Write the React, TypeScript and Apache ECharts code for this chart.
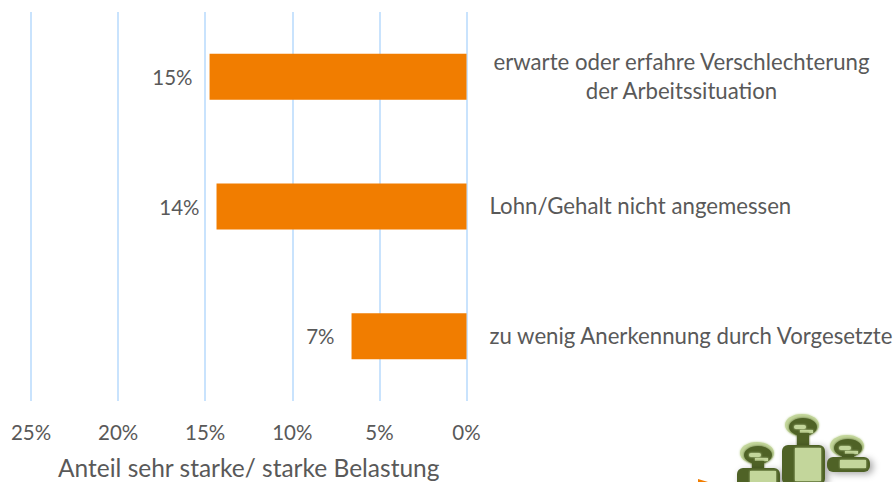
import React, { useEffect, useRef } from "react";
import * as echarts from "echarts";

const categories = [
  "erwarte oder erfahre Verschlechterung\nder Arbeitssituation",
  "Lohn/Gehalt nicht angemessen",
  "zu wenig Anerkennung durch Vorgesetzte",
];
const values = [14.75, 14.35, 6.6];
const axisName = "Anteil sehr starke/ starke Belastung";
const FONT = "Lato";
const TEXT = "#595959";
const LIGHT = "#c3d69b";
const DARK = "#4f6228";

const soft = (fill: string) => ({ fill, shadowBlur: 2, shadowColor: fill });

function person(cx: number, headY: number, bodyY: number, bodyH: number, s: number) {
  return [
    { type: "ellipse", shape: { cx: cx - 1, cy: headY - 2, rx: 17 * s, ry: 11 * s }, style: soft(LIGHT) },
    {
      type: "ellipse",
      shape: { cx, cy: headY, rx: 14 * s, ry: 9 * s },
      style: { ...soft(DARK), shadowBlur: 3 },
    },
    { type: "rect", shape: { x: cx - 9 * s, y: headY - 2 * s, width: 12 * s, height: 4 * s, r: 2 }, style: soft(LIGHT) },
    { type: "rect", shape: { x: cx - 3 * s, y: headY + 3 * s, width: 13 * s, height: 3 * s }, style: soft(LIGHT) },
    { type: "rect", shape: { x: cx - 6 * s, y: headY + 6 * s, width: 12 * s, height: bodyY - headY - 3 * s }, style: soft(DARK) },
    {
      type: "rect",
      shape: { x: cx - 21 * s, y: bodyY, width: 43 * s, height: bodyH, r: 6 },
      style: { fill: DARK, shadowBlur: 7, shadowColor: "rgba(0,0,0,0.35)", shadowOffsetX: 3, shadowOffsetY: 2 },
    },
    { type: "rect", shape: { x: cx - 8 * s, y: bodyY + 3, width: 26 * s, height: bodyH - 7 }, style: soft(LIGHT) },
  ];
}

export default function App() {
  const ref = useRef<HTMLDivElement>(null);
  useEffect(() => {
    const chart = echarts.init(ref.current!, null, { renderer: "svg" });
    chart.setOption({
      animation: false,
      textStyle: { fontFamily: FONT },
      grid: { left: 31, right: 429.5, top: 12, bottom: 81, outerBoundsMode: "none" },
      xAxis: {
        type: "value",
        inverse: true,
        min: 0,
        max: 25,
        interval: 5,
        name: axisName,
        nameLocation: "middle",
        nameGap: 54,
        nameTextStyle: { color: TEXT, fontSize: 24.5, fontFamily: FONT },
        axisLine: { show: false },
        axisTick: { show: false },
        axisLabel: { color: TEXT, fontSize: 20.5, margin: 20, formatter: "{value}%", fontFamily: FONT },
        splitLine: { show: true, lineStyle: { color: "#c9e3fd", width: 2 } },
      },
      yAxis: {
        type: "category",
        inverse: true,
        position: "right",
        data: categories,
        axisLine: { show: false },
        axisTick: { show: false },
        axisLabel: {
          margin: 23,
          align: "left",
          color: TEXT,
          fontSize: 22.2,
          fontFamily: FONT,
          lineHeight: 29,
          padding: [0, 0, 2, 0],
          formatter: (v: string) =>
            v.includes("\n") ? v.split("\n").map((l) => `{c|${l}}`).join("\n") : v,
          rich: {
            c: { width: 384, align: "center", color: TEXT, fontSize: 22.2, fontFamily: FONT, lineHeight: 29 },
          },
        },
      },
      series: [
        {
          type: "bar",
          data: values,
          barWidth: "35.5%",
          itemStyle: { color: "#f17d00" },
          label: {
            show: true,
            position: "left",
            distance: 17,
            color: TEXT,
            fontSize: 20.5,
            fontFamily: FONT,
            formatter: (p: any) => `${Math.round(p.value)}%`,
          },
        },
      ],
      graphic: [
        ...person(758, 455, 468, 20, 1),
        ...person(803, 427, 445, 40, 1),
        ...person(848, 448, 457, 15, 1),
        { type: "polygon", shape: { points: [[698, 479], [708, 482], [698, 482]] }, style: { fill: "#f17d00" } },
      ],
    });
    return () => chart.dispose();
  }, []);
  return <div ref={ref} style={{ position: "absolute", left: 0, top: 0, width: 896, height: 482 }} />;
}
